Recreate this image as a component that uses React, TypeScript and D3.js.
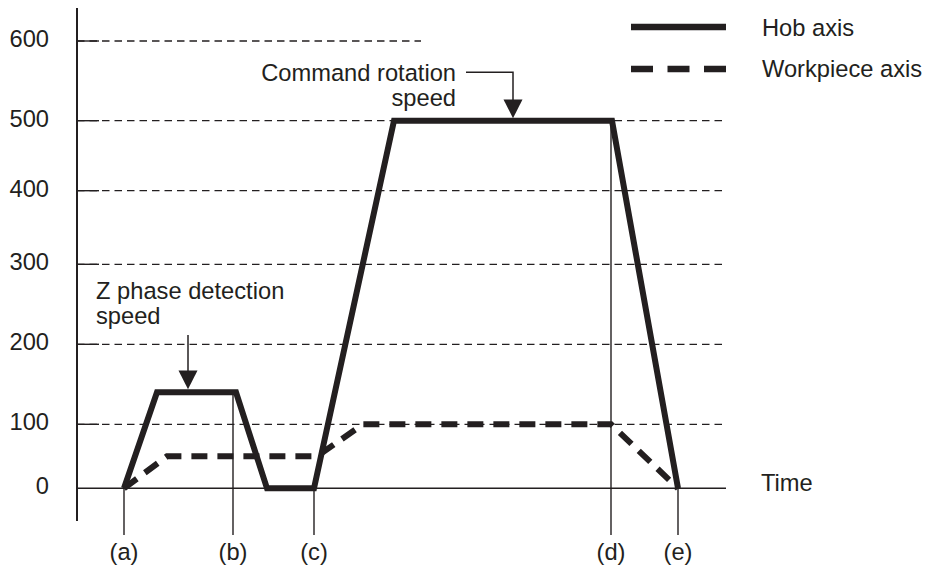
import React from "react";
import * as d3 from "d3";

// ---- data ----
const yTicks = [0, 100, 200, 300, 400, 500, 600];
const markLabels = ["(a)", "(b)", "(c)", "(d)", "(e)"];
const markTimes = [4.7, 15.6, 23.7, 53.4, 60.1];
const hobTimes = [4.7, 8.0, 15.9, 19.0, 23.7, 31.7, 53.5, 60.1];
const hobSpeeds = [0, 140, 140, 0, 0, 500, 500, 0];
const workTimes = [4.7, 9.0, 24.0, 28.6, 53.4, 60.1];
const workSpeeds = [0, 50, 50, 100, 100, 0];
const legendLabels = ["Hob axis", "Workpiece axis"];
const zPhaseText = ["Z phase detection", "speed"];
const zPhaseTime = 11.1;
const commandText = ["Command rotation", "speed"];
const commandTime = 43.6;
const gridEndTimes = [64.9, 64.9, 64.9, 64.9, 64.9, 64.9, 34.4];

const W = 925;
const H = 567;
const INK = "#231f20";
const FONT = "'Liberation Sans', Arial, Helvetica, sans-serif";
const FS = 23.7;

export default function App() {
  const x = d3.scaleLinear().domain([0, 65]).range([77, 727]);
  // schematic (non-uniform) speed axis
  const y = d3
    .scaleLinear()
    .domain(yTicks)
    .range([488.3, 424.3, 344.3, 264.3, 190.7, 120.7, 41]);

  const hobAt = d3.scaleLinear().domain(hobTimes).range(hobSpeeds);

  const line = d3
    .line<[number, number]>()
    .x((d) => x(d[0]))
    .y((d) => y(d[1]))
    .curve(d3.curveLinear);

  const hobPath = line(hobTimes.map((t, i) => [t, hobSpeeds[i]]))!;
  const workPath = line(workTimes.map((t, i) => [t, workSpeeds[i]]))!;

  const axisX = x(0);
  const axisTop = 8;
  const axisBottom = 521;
  const markBottom = 535;
  const xEnd = x(64.9);

  const tri = (cx: number, tipY: number) =>
    `M${cx - 9.5},${tipY - 18.7}L${cx + 9.5},${tipY - 18.7}L${cx},${tipY}Z`;

  const zx = x(zPhaseTime);
  const zTip = y(hobAt(zPhaseTime)) - 3;
  const cx = x(commandTime);
  const cTip = y(hobAt(commandTime)) - 2.5;

  return (
    <svg
      width={W}
      height={H}
      style={{ position: "absolute", left: 0, top: 0, display: "block", background: "#fff" }}
      fontFamily={FONT}
    >
      <rect width={W} height={H} fill="#fff" />
      {/* grid lines */}
      {yTicks.map((v, i) =>
        v === 0 ? null : (
          <g key={"g" + v}>
            <line
              x1={axisX}
              x2={x(gridEndTimes[i])}
              y1={y(v)}
              y2={y(v)}
              stroke={INK}
              strokeWidth={1.3}
              strokeDasharray="7.5 5"
            />
            <line x1={axisX} x2={axisX + 22} y1={y(v)} y2={y(v)} stroke={INK} strokeWidth={1.4} />
          </g>
        )
      )}
      {/* y tick labels */}
      {yTicks.map((v) => (
        <text key={"yl" + v} x={49} y={y(v) + 6} textAnchor="end" fontSize={FS} fill={INK}>
          {v}
        </text>
      ))}
      {/* x axis (zero line) */}
      <line x1={axisX} x2={xEnd} y1={y(0)} y2={y(0)} stroke={INK} strokeWidth={1.5} />
      {/* y axis */}
      <line x1={axisX} x2={axisX} y1={axisTop} y2={axisBottom} stroke={INK} strokeWidth={2} />
      {/* time markers */}
      {markTimes.map((t, i) => (
        <g key={"m" + i}>
          <line
            x1={x(t)}
            x2={x(t)}
            y1={y(hobAt(t))}
            y2={markBottom}
            stroke={INK}
            strokeWidth={1.4}
          />
          <text x={x(t)} y={560} textAnchor="middle" fontSize={FS} fill={INK}>
            {markLabels[i]}
          </text>
        </g>
      ))}
      <text x={761} y={491} fontSize={FS} fill={INK}>
        Time
      </text>
      {/* series */}
      <path
        d={workPath}
        fill="none"
        stroke={INK}
        strokeWidth={6}
        strokeDasharray="16 10"
        strokeLinejoin="miter"
      />
      <path d={hobPath} fill="none" stroke={INK} strokeWidth={6} strokeLinejoin="miter" />

      {/* Z phase annotation */}
      {zPhaseText.map((s, i) => (
        <text key={"z" + i} x={96} y={299 + i * 25} fontSize={FS} fill={INK}>
          {s}
        </text>
      ))}
      <line x1={zx} x2={zx} y1={335} y2={zTip - 15} stroke={INK} strokeWidth={1.5} />
      <path d={tri(zx, zTip)} fill={INK} />

      {/* Command rotation annotation */}
      {commandText.map((s, i) => (
        <text key={"c" + i} x={456} y={81 + i * 25} textAnchor="end" fontSize={FS} fill={INK}>
          {s}
        </text>
      ))}
      <polyline
        points={`466,72.3 ${cx},72.3 ${cx},${cTip - 15}`}
        fill="none"
        stroke={INK}
        strokeWidth={1.5}
      />
      <path d={tri(cx, cTip)} fill={INK} />

      {/* legend */}
      {legendLabels.map((s, i) => (
        <g key={"l" + i}>
          <line
            x1={631}
            x2={726}
            y1={27 + i * 42}
            y2={27 + i * 42}
            stroke={INK}
            strokeWidth={6.7}
            strokeDasharray={i === 0 ? undefined : "22 14.5"}
          />
          <text x={762} y={35.5 + i * 41.5} fontSize={FS} fill={INK}>
            {s}
          </text>
        </g>
      ))}
    </svg>
  );
}
